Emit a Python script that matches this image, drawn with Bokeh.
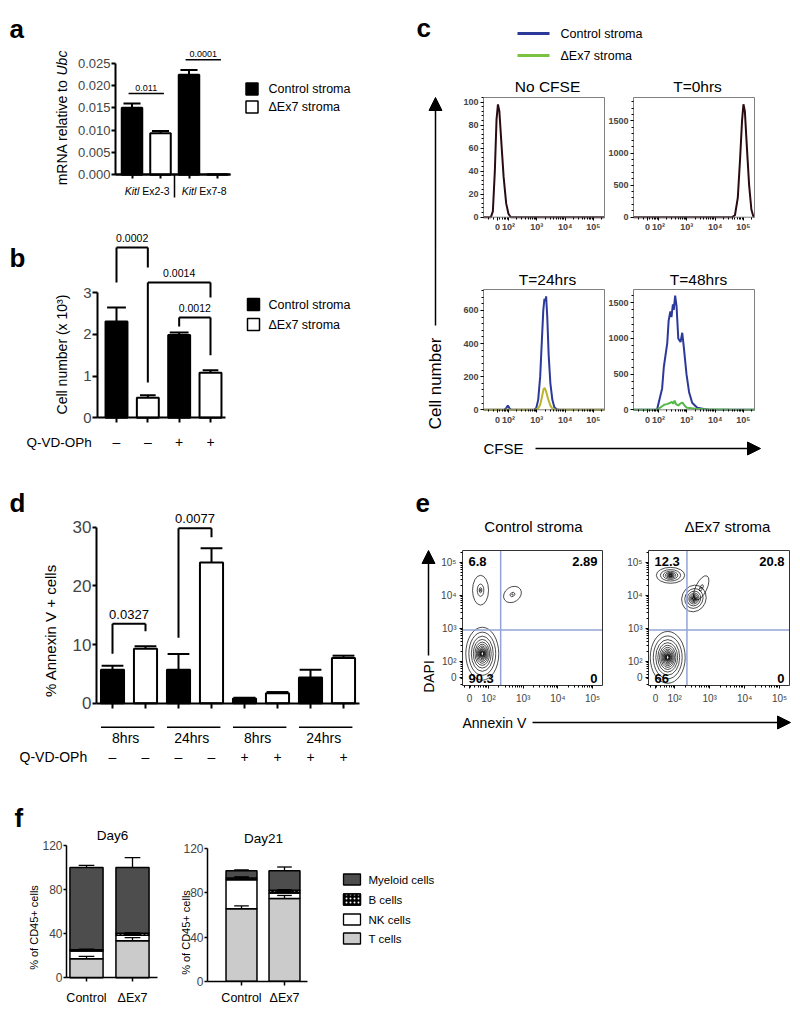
import numpy as np
from bokeh.plotting import figure
from bokeh.models import Range1d, LinearAxis, FixedTicker, Arrow, NormalHead
from bokeh.core.properties import value
from bokeh.embed import file_html
from bokeh.resources import INLINE

FONT = "Liberation Sans"

# ---------------- DATA ----------------
# panel a
a_genes = ["Ex2-3", "Ex7-8"]
a_ctrl = [0.0150, 0.0224]
a_ctrl_err = [0.0010, 0.0011]
a_dex7 = [0.0093, 0.0001]
a_dex7_err = [0.0005, 0.0]
a_p = ["0.011", "0.0001"]
a_p_y = [0.0182, 0.0258]
a_yticks = [0.0, 0.005, 0.01, 0.015, 0.02, 0.025]
a_ylabels = ["0.000", "0.005", "0.010", "0.015", "0.020", "0.025"]

# panel b
b_ctrl = [2.31, 1.99]
b_ctrl_err = [0.34, 0.06]
b_dex7 = [0.48, 1.08]
b_dex7_err = [0.06, 0.06]
b_qvd = ["–", "–", "+", "+"]
b_yticks = [0, 1, 2, 3]
b_p = ["0.0002", "0.0014", "0.0012"]
b_p_from = [0, 1, 2]
b_p_to = [1, 3, 3]
b_p_top = [4.09, 3.25, 2.41]
b_p_leg_from = [3.25, 0.85, 2.19]
b_p_leg_to = [3.61, 2.89, 1.50]

# panel c (x in decades of CFSE, biexponential display)
c_titles = ["No CFSE", "T=0hrs", "T=24hrs", "T=48hrs"]
c_ymax = [104, 1865, 726, 1687]
c_yticks = [[0, 20, 40, 60, 80, 100], [0, 500, 1000, 1500], [0, 200, 400, 600], [0, 500, 1000, 1500]]
c_xticks = [1.61, 2, 3, 4, 5]
c_xlabels = ["0", "10²", "10³", "10⁴", "10⁵"]
c1_x = [1.12, 1.38, 1.45, 1.52, 1.58, 1.63, 1.68, 1.75, 1.83, 1.92, 2.00, 2.08, 5.39]
c1_y = [0, 0, 5, 40, 85, 98, 92, 65, 35, 12, 3, 0, 0]
c2_x = [1.12, 4.60, 4.70, 4.80, 4.88, 4.95, 5.00, 5.05, 5.12, 5.20, 5.28, 5.35, 5.39]
c2_y = [0, 0, 30, 300, 900, 1500, 1760, 1650, 1100, 500, 120, 10, 0]
c3_ctrl_x = [1.12, 1.85, 1.92, 1.98, 2.04, 2.10, 2.90, 2.98, 3.05, 3.12, 3.18, 3.23, 3.27, 3.30, 3.33, 3.37,
             3.42, 3.48, 3.55, 3.62, 3.70, 3.80, 5.39]
c3_ctrl_y = [0, 0, 10, 26, 8, 0, 0, 10, 60, 200, 420, 600, 670, 655, 685, 560, 330, 160, 60, 15, 3, 0, 0]
c3_dex7_x = [1.12, 2.95, 3.05, 3.12, 3.18, 3.24, 3.28, 3.33, 3.40, 3.48, 3.56, 3.65, 5.39]
c3_dex7_y = [0, 0, 8, 30, 75, 125, 132, 110, 65, 25, 5, 0, 0]
c4_ctrl_x = [1.12, 1.95, 2.13, 2.19, 2.31, 2.36, 2.42, 2.46, 2.51, 2.54, 2.59, 2.64, 2.70, 2.78, 2.84, 2.89,
             2.99, 3.08, 3.19, 3.37, 3.60, 3.80, 5.39]
c4_ctrl_y = [0, 0, 300, 600, 930, 1250, 1380, 1300, 1480, 1400, 1600, 1450, 1000, 950, 1080, 900, 500, 250,
             100, 30, 10, 0, 0]
c4_dex7_x = [1.12, 1.95, 2.10, 2.20, 2.30, 2.40, 2.47, 2.52, 2.57, 2.62, 2.70, 2.78, 2.85, 2.92, 3.00, 3.10,
             3.30, 3.60, 4.00, 4.50, 5.39]
c4_dex7_y = [0, 0, 40, 70, 80, 95, 110, 85, 130, 80, 60, 90, 100, 60, 30, 25, 15, 8, 5, 3, 0]

# panel d
d_ctrl = [5.7, 5.7, 0.8, 4.4]
d_ctrl_err = [0.7, 2.7, 0.15, 1.3]
d_dex7 = [9.3, 24.0, 1.7, 7.7]
d_dex7_err = [0.4, 2.4, 0.2, 0.4]
d_times = ["8hrs", "24hrs", "8hrs", "24hrs"]
d_qvd = ["–", "–", "–", "–", "+", "+", "+", "+"]
d_yticks = [0, 10, 20, 30]
d_p = ["0.0327", "0.0077"]
d_p_from = [0, 2]
d_p_to = [1, 3]
d_p_top = [13.53, 29.83]
d_p_leg_from = [8.42, 11.15]
d_p_leg_to = [12.27, 28.3]

# panel e (log decades; Annexin V on x, DAPI on y)
e_titles = ["Control stroma", "ΔEx7 stroma"]
e_quad_ctrl = ["6.8", "2.89", "90.3", "0"]
e_quad_dex7 = ["12.3", "20.8", "66", "0"]
e_gate_x = 2.35
e_gate_y = 2.95
e_ticks = [2, 3, 4, 5]
e_ticklabels = ["10²", "10³", "10⁴", "10⁵"]
e_zero_x = 1.45
e_zero_y = 1.50
e_ctrl_cx = [1.82, 1.77, 2.69]
e_ctrl_cy = [2.23, 4.15, 4.02]
e_ctrl_w = [0.95, 0.46, 0.55]
e_ctrl_h = [1.60, 0.90, 0.45]
e_ctrl_ang = [0.0, 0.0, 0.6]
e_ctrl_lev = [14, 4, 3]
e_dex7_cx = [1.88, 2.55, 2.76, 1.80]
e_dex7_cy = [4.60, 3.90, 4.22, 2.12]
e_dex7_w = [0.81, 0.69, 0.32, 1.00]
e_dex7_h = [0.48, 0.82, 0.80, 1.57]
e_dex7_ang = [0.0, -0.4, -0.45, 0.0]
e_dex7_lev = [9, 10, 3, 15]

# panel f
f_layers = ["T cells", "NK cells", "B cells", "Myeloid cells"]
f_groups = ["Control", "ΔEx7"]
f6_ctrl = [17.3, 6.9, 1.3, 74.5]
f6_ctrl_err = [2.1, 0.8, 0.5, 2.0]
f6_dex7 = [33.5, 5.0, 2.0, 59.5]
f6_dex7_err = [3.0, 1.0, 0.5, 9.0]
f21_ctrl = [65.7, 26.3, 1.5, 6.5]
f21_ctrl_err = [2.5, 2.5, 0.5, 0.8]
f21_dex7 = [75.0, 5.0, 2.5, 17.5]
f21_dex7_err = [2.7, 1.5, 0.5, 3.5]
f_yticks = [0, 40, 80, 120]

# ---------------- FIGURE ----------------
X0, X1, Y0, Y1 = 0, 792, 0, 1007
p = figure(width=X1 - X0, height=Y1 - Y0, x_range=Range1d(X0, X1), y_range=Range1d(Y1, Y0),
           output_backend="svg", toolbar_location=None, min_border=0, title=None,
           x_axis_location=None, y_axis_location=None, outline_line_color=None)
p.background_fill_color = "white"
p.border_fill_color = "white"
p.grid.grid_line_color = None
p.grid.visible = False

PAN = {}


def panel(name, L, R, T, B, x0, x1, y0, y1):
    sx = (x1 - x0) / (R - L)
    sy = (y1 - y0) / (B - T)
    p.extra_x_ranges[name] = Range1d(x0 - (L - X0) * sx, x1 + (X1 - R) * sx)
    p.extra_y_ranges[name] = Range1d(y0 - (Y1 - B) * sy, y1 + (T - Y0) * sy)
    PAN[name] = (L, R, T, B, x0, x1, y0, y1)


def xd(n, px):
    L, R, T, B, x0, x1, y0, y1 = PAN[n]
    return x0 + (px - L) * (x1 - x0) / (R - L)


def yd(n, py):
    L, R, T, B, x0, x1, y0, y1 = PAN[n]
    return y0 + (B - py) * (y1 - y0) / (B - T)


def hd(n, h):
    L, R, T, B, x0, x1, y0, y1 = PAN[n]
    return h * (y1 - y0) / (B - T)


def RN(n):
    return dict(x_range_name=n, y_range_name=n)


def T(xs, ys, ss, size, n="default", align="center", baseline="middle", angle=0.0, style="normal",
      color="black", xoff=0):
    p.text(x=list(xs), y=list(ys), text=list(ss), text_font=value(FONT), text_font_size=f"{size}px",
           text_align=align, text_baseline=baseline, angle=angle, text_font_style=style,
           text_color=color, x_offset=xoff, **RN(n))


def axis(n, side, loc, bounds, ticks, labels=None, minor=None, size=12, style="normal", lw=2.0, tlw=None,
         tout=5, mout=0, standoff=2, line_color="black"):
    ax = LinearAxis(x_range_name=n, y_range_name=n, fixed_location=loc, bounds=tuple(bounds),
                    ticker=FixedTicker(ticks=list(ticks), minor_ticks=list(minor or [])))
    ax.axis_line_width = lw
    ax.axis_line_color = line_color
    ax.major_tick_line_width = tlw if tlw is not None else lw
    ax.major_tick_out = int(tout)
    ax.major_tick_in = 0
    ax.minor_tick_out = int(mout)
    ax.minor_tick_in = 0
    ax.minor_tick_line_width = 1
    ax.major_label_text_font = FONT
    ax.major_label_text_font_size = f"{size}px"
    ax.major_label_text_font_style = style
    ax.major_label_standoff = int(standoff)
    ax.major_label_overrides = {t: (labels[i] if labels else "") for i, t in enumerate(ticks)}
    p.add_layout(ax, side)


def bars(n, xs, tops, errs, fill, width, lw=2, cap=0.3, elw=2, bottoms=None):
    bottoms = bottoms or [0] * len(xs)
    p.vbar(x=xs, top=tops, bottom=bottoms, width=width, fill_color=fill, line_color="black",
           line_width=lw, **RN(n))
    ex = [x for x, e in zip(xs, errs) if e > 0]
    et = [t for t, e in zip(tops, errs) if e > 0]
    ee = [t + e for t, e in zip(tops, errs) if e > 0]
    p.segment(x0=ex, y0=et, x1=ex, y1=ee, line_color="black", line_width=elw, **RN(n))
    p.segment(x0=[x - cap for x in ex], y0=ee, x1=[x + cap for x in ex], y1=ee, line_color="black",
              line_width=elw, **RN(n))


def brackets(n, xf, xt, top, lf, lt, labels, size, gap_px, lw=2):
    p.segment(x0=xf, y0=top, x1=xt, y1=top, line_color="black", line_width=lw, **RN(n))
    p.segment(x0=xf, y0=top, x1=xf, y1=lf, line_color="black", line_width=lw, **RN(n))
    p.segment(x0=xt, y0=top, x1=xt, y1=lt, line_color="black", line_width=lw, **RN(n))
    T([(a + b) / 2 for a, b in zip(xf, xt)], [t + hd(n, gap_px) for t in top], labels, size, n=n,
      baseline="bottom")


def arrow(xs, ys, xe, ye):
    p.add_layout(Arrow(end=NormalHead(size=13, fill_color="black", line_color="black", line_width=1),
                       x_start=xs, y_start=ys, x_end=xe, y_end=ye, line_width=1.5, line_color="black"))


# panel letters
T([9, 9, 9], [28, 257, 502], ["a", "b", "d"], 26, align="left", baseline="alphabetic", style="bold")
T([416, 415, 14], [27, 502, 817], ["c", "e", "f"], 26, align="left", baseline="alphabetic", style="bold")

# ================= panel a =================
panel("a", 131.5, 217, 62.7, 174.3, 0, 3, 0, 0.025)
a_xc = [2 * i for i in range(len(a_genes))]
a_xd = [2 * i + 1 for i in range(len(a_genes))]
bars("a", a_xc, a_ctrl, a_ctrl_err, "black", 0.72, cap=0.3)
bars("a", a_xd, a_dex7, a_dex7_err, "white", 0.72, cap=0.3)
axis("a", "left", xd("a", 115), (0, 0.025), a_yticks, a_ylabels, size=13, tout=4, standoff=1)
axis("a", "below", 0, (xd("a", 115), xd("a", 230)), list(range(4)), None, tout=4)
axis("a", "below", 0, (xd("a", 115), xd("a", 230)), [1.5], None, tout=23, tlw=1.5)
p.segment(x0=[x - 0.12 for x in a_xc], y0=a_p_y, x1=[x + 0.12 for x in a_xd], y1=a_p_y,
          line_color="black", line_width=1.5, **RN("a"))
T([x + 0.5 for x in a_xc], [y + hd("a", 3) for y in a_p_y], a_p, 9, n="a", baseline="bottom")
gx = [2 * i + 0.5 for i in range(len(a_genes))]
T(gx, [yd("a", 190)] * 2, ["Kitl"] * 2, 10.5, n="a", align="right", style="italic", xoff=-7)
T(gx, [yd("a", 190)] * 2, a_genes, 10.5, n="a", align="left", xoff=-4)
T([61], [79], ["mRNA relative to"], 14, align="right", angle=np.pi / 2)
T([61], [75], ["Ubc"], 14, align="left", angle=np.pi / 2, style="italic")
p.rect(x=[251.5, 251.5], y=[88.5, 106.5], width=12, height=12, fill_color=["black", "white"],
       line_color="black", line_width=1.5)
T([268, 268], [88.5, 106.5], ["Control stroma", "ΔEx7 stroma"], 12.5, align="left")

# ================= panel b =================
panel("b", 116, 210, 292.3, 417.3, 0, 3, 0, 3)
b_xc = [2 * i for i in range(len(b_ctrl))]
b_xd = [2 * i + 1 for i in range(len(b_dex7))]
bars("b", b_xc, b_ctrl, b_ctrl_err, "black", 0.7, cap=0.3)
bars("b", b_xd, b_dex7, b_dex7_err, "white", 0.7, cap=0.25)
axis("b", "left", xd("b", 97), (0, 3), b_yticks, [str(t) for t in b_yticks], size=15, tout=5, standoff=1)
axis("b", "below", 0, (xd("b", 97), xd("b", 225)), list(range(4)), None, tout=5)
brackets("b", b_p_from, b_p_to, b_p_top, b_p_leg_from, b_p_leg_to, b_p, 10.5, 5)
T([61], [354], ["Cell number (x 10³)"], 14, angle=np.pi / 2)
p.rect(x=[253, 253], y=[304, 324], width=12, height=12, fill_color=["black", "white"],
       line_color="black", line_width=1.5)
T([268, 268], [304, 324], ["Control stroma", "ΔEx7 stroma"], 12.5, align="left")
T([26], [441.7], ["Q-VD-OPh"], 13.5, align="left")
T(list(range(4)), [yd("b", 441.7)] * 4, b_qvd, 14, n="b")

# ================= panel c =================
c_frames = [(483, 604, 97, 216.7), (633, 754, 97, 216.7), (483, 604, 289, 409.3), (633, 754, 289, 409.3)]
DARK, BLUE, YEL, GRN = "#2a0b12", "#2b3a98", "#b9b52a", "#56b848"
c_curves = [[(c1_x, c1_y, DARK)], [(c2_x, c2_y, DARK)],
            [(c3_ctrl_x, c3_ctrl_y, BLUE), (c3_dex7_x, c3_dex7_y, YEL)],
            [(c4_ctrl_x, c4_ctrl_y, BLUE), (c4_dex7_x, c4_dex7_y, GRN)]]
log_minor = [round(d + np.log10(k), 4) for d in (1, 2, 3, 4, 5) for k in range(2, 10)]
for i, (L, R, Tp, B) in enumerate(c_frames):
    n = f"c{i}"
    panel(n, L, R, Tp, B, 1.12, 5.39, 0, c_ymax[i])
    for xs, ys, col in c_curves[i]:
        p.line(x=xs, y=ys, line_color=col, line_width=2, **RN(n))
    p.quad(left=[1.12], right=[5.39], bottom=[0], top=[c_ymax[i]], fill_color=None,
           line_color="#808080", line_width=1, **RN(n))
    yt = c_yticks[i]
    step = (yt[1] - yt[0]) / 5
    ymin = [k * step for k in range(int(c_ymax[i] / step) + 1)]
    axis(n, "left", 1.12, (0, c_ymax[i]), yt, [str(t) for t in yt], minor=ymin, size=9, style="bold",
         lw=1, tout=3, mout=2, standoff=2, line_color=None)
    axis(n, "below", 0, (1.12, 5.39), c_xticks, c_xlabels,
         minor=[m for m in log_minor if 1.12 < m < 5.39], size=9, style="bold", lw=1, tout=3, mout=2,
         standoff=2, line_color=None)
T([547, 697, 547, 698], [86, 86, 279, 279], c_titles, 15.5)
p.segment(x0=[517, 517], y0=[33, 55], x1=[549, 549], y1=[33, 55], line_color=[BLUE, "#7cc242"],
          line_width=3)
T([560, 560], [33, 55], ["Control stroma", "ΔEx7 stroma"], 12.5, align="left")
arrow(435, 325, 435, 97)
T([435], [383], ["Cell number"], 17, angle=np.pi / 2)
T([483], [448], ["CFSE"], 15, align="left")
arrow(535, 448, 760, 448)

# ================= panel d =================
panel("d", 112, 343, 526.7, 702.7, 0, 7, 0, 30)
d_xc = [2 * i for i in range(len(d_ctrl))]
d_xd = [2 * i + 1 for i in range(len(d_dex7))]
bars("d", d_xc, d_ctrl, d_ctrl_err, "black", 0.7, cap=0.33)
bars("d", d_xd, d_dex7, d_dex7_err, "white", 0.7, cap=0.33)
axis("d", "left", xd("d", 96), (0, 30), d_yticks, [str(t) for t in d_yticks], size=17, tout=4, standoff=1)
axis("d", "below", 0, (xd("d", 96), xd("d", 359)), list(range(8)), None, tout=5)
brackets("d", d_p_from, d_p_to, d_p_top, d_p_leg_from, d_p_leg_to, d_p, 13, 5)
T([50], [630], ["% Annexin V + cells"], 15, angle=np.pi / 2)
gy = yd("d", 726.7)
p.segment(x0=[2 * g - 0.35 for g in range(4)], y0=[gy] * 4, x1=[2 * g + 1.27 for g in range(4)], y1=[gy] * 4,
          line_color="black", line_width=1.5, **RN("d"))
T([2 * g + 0.4 for g in range(4)], [yd("d", 737)] * 4, d_times, 14, n="d")
T([19], [756.7], ["Q-VD-OPh"], 14, align="left")
T(list(range(8)), [yd("d", 756.7)] * 8, d_qvd, 14, n="d")

# ================= panel e =================
e_frames = [(462, 602), (648, 789)]
e_sets = [(e_ctrl_cx, e_ctrl_cy, e_ctrl_w, e_ctrl_h, e_ctrl_ang, e_ctrl_lev),
          (e_dex7_cx, e_dex7_cy, e_dex7_w, e_dex7_h, e_dex7_ang, e_dex7_lev)]
e_quads = [e_quad_ctrl, e_quad_dex7]
for i, (L, R) in enumerate(e_frames):
    n = f"e{i}"
    panel(n, L, R, 550, 685, 1.25, 5.285, 1.27, 5.35)
    cx, cy, cw, ch, ca, cl = e_sets[i]
    ex, ey, ew, eh, ea = [], [], [], [], []
    for j in range(len(cx)):
        for s in np.geomspace(1.0, 0.07, cl[j]):
            ex.append(cx[j]); ey.append(cy[j]); ew.append(cw[j] * s); eh.append(ch[j] * s); ea.append(ca[j])
    p.ellipse(x=ex, y=ey, width=ew, height=eh, angle=ea, fill_color=None, line_color="black",
              line_width=0.7, **RN(n))
    p.segment(x0=[e_gate_x, 1.25], y0=[1.27, e_gate_y], x1=[e_gate_x, 5.285], y1=[5.35, e_gate_y],
              line_color="#93a3d6", line_width=1.5, **RN(n))
    p.quad(left=[1.25], right=[5.285], bottom=[1.27], top=[5.35], fill_color=None, line_color="#333333",
           line_width=1, **RN(n))
    axis(n, "left", 1.25, (1.27, 5.35), [e_zero_y] + e_ticks, ["0"] + e_ticklabels,
         minor=[m for m in log_minor if 1.27 < m < 5.35], size=10, lw=1, tout=3, mout=2, standoff=3,
         line_color=None)
    axis(n, "below", 1.27, (1.25, 5.285), [e_zero_x] + e_ticks, ["0"] + e_ticklabels,
         minor=[m for m in log_minor if 1.25 < m < 5.285], size=10, lw=1, tout=3, mout=2, standoff=4,
         line_color=None)
    q = e_quads[i]
    T([L + 6, L + 6], [561, 678], [q[0], q[2]], 13, align="left", style="bold")
    T([R - 5, R - 5], [561, 678], [q[1], q[3]], 13, align="right", style="bold")
T([533, 727], [526, 526], e_titles, 15)
arrow(428, 655, 428, 550)
T([428], [676], ["DAPI"], 14, angle=np.pi / 2)
T([462], [722], ["Annexin V"], 14, align="left")
arrow(532, 722, 790, 722)

# ================= panel f =================
f_cols = ["#cbcbcb", "white", "black", "#4d4d4d"]
f_panels = [("f6", 86, 132, 845, 977.3, 66, 157, "Day6", 112, 835, 33, 927, [f6_ctrl, f6_dex7],
             [f6_ctrl_err, f6_dex7_err]),
            ("f21", 241, 284, 848.3, 980.7, 207, 307, "Day21", 263, 838, 185, 932, [f21_ctrl, f21_dex7],
             [f21_ctrl_err, f21_dex7_err])]
for (n, L, R, Tp, B, axl, axr, title, tx, ty, lx, ly, vals, errs) in f_panels:
    panel(n, L, R, Tp, B, 0, 1, 0, 120)
    for g in range(len(f_groups)):
        cum = np.cumsum([0] + vals[g])
        for k in range(len(f_layers)):
            kw = dict(hatch_pattern="dot", hatch_color="white", hatch_scale=4, hatch_weight=1.5) if k == 2 else {}
            p.vbar(x=[g], bottom=[cum[k]], top=[cum[k + 1]], width=0.72, fill_color=f_cols[k],
                   line_color="black", line_width=1.5, **kw, **RN(n))
        et = [cum[k + 1] for k in range(len(f_layers))]
        ee = [cum[k + 1] + errs[g][k] for k in range(len(f_layers))]
        p.segment(x0=[g] * 4, y0=et, x1=[g] * 4, y1=ee, line_color="black", line_width=1.3, **RN(n))
        p.segment(x0=[g - 0.17] * 4, y0=ee, x1=[g + 0.17] * 4, y1=ee, line_color="black", line_width=1.3,
                  **RN(n))
    axis(n, "left", xd(n, axl), (0, 120), f_yticks, [str(t) for t in f_yticks], size=12, lw=1.5, tout=3,
         standoff=1)
    axis(n, "below", 0, (xd(n, axl), xd(n, axr)), [0, 1], None, lw=1.5, tout=4)
    T([0, 1], [yd(n, 997)] * 2, f_groups, 12.5, n=n)
    T([tx], [ty], [title], 13.5)
    T([lx], [ly], ["% of CD45+ cells"], 11, angle=np.pi / 2)
leg_y = [938, 919, 899, 879]
p.rect(x=[351.5] * 4, y=leg_y, width=17, height=11, fill_color=f_cols, line_color="black", line_width=1.3)
p.rect(x=[351.5], y=[899], width=17, height=11, fill_color="black", line_color="black", line_width=1.3,
       hatch_pattern="dot", hatch_color="white", hatch_scale=4, hatch_weight=1.5)
T([368] * 4, leg_y, f_layers, 11.5, align="left")

open("out.html", "w").write(file_html(p, INLINE))
